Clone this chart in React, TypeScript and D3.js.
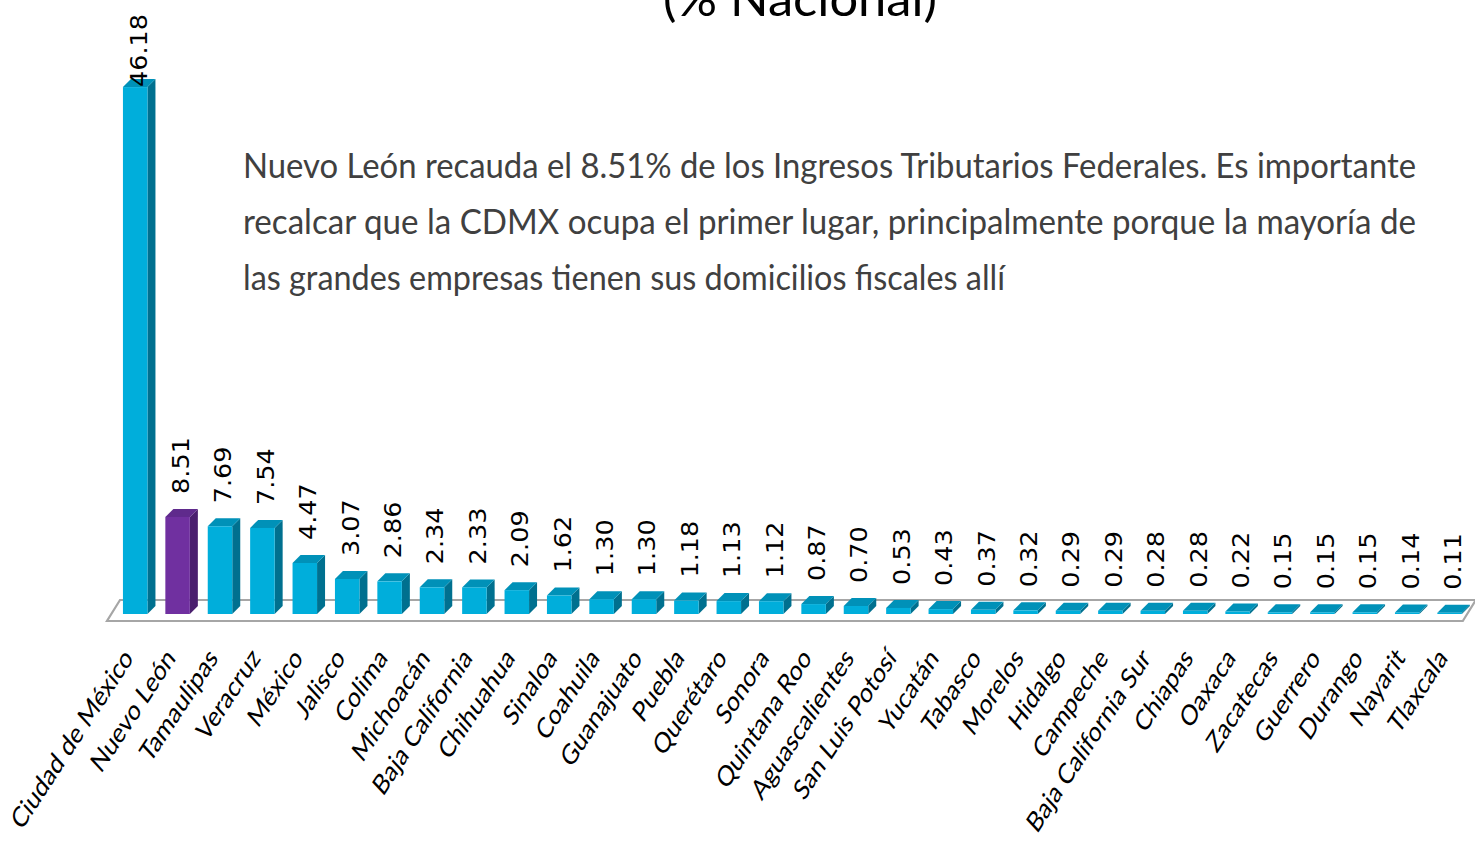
import { useEffect, useRef } from "react";
import * as d3 from "d3";

const states = [
  "Ciudad de México", "Nuevo León", "Tamaulipas", "Veracruz", "México", "Jalisco", "Colima",
  "Michoacán", "Baja California", "Chihuahua", "Sinaloa", "Coahuila", "Guanajuato", "Puebla",
  "Querétaro", "Sonora", "Quintana Roo", "Aguascalientes", "San Luis Potosí", "Yucatán",
  "Tabasco", "Morelos", "Hidalgo", "Campeche", "Baja California Sur", "Chiapas", "Oaxaca",
  "Zacatecas", "Guerrero", "Durango", "Nayarit", "Tlaxcala",
];

const shares = [
  46.18, 8.51, 7.69, 7.54, 4.47, 3.07, 2.86, 2.34, 2.33, 2.09, 1.62, 1.3, 1.3, 1.18, 1.13, 1.12,
  0.87, 0.7, 0.53, 0.43, 0.37, 0.32, 0.29, 0.29, 0.28, 0.28, 0.22, 0.15, 0.15, 0.15, 0.14, 0.11,
];

const highlight = "Nuevo León";

const titleText = "(% Nacional)";

const noteLines = [
  "Nuevo León recauda el 8.51% de los Ingresos Tributarios Federales. Es importante",
  "recalcar que la CDMX ocupa el primer lugar, principalmente porque la mayoría de",
  "las grandes empresas tienen sus domicilios fiscales allí",
];

const W = 1475;
const H = 842;

export default function App() {
  const ref = useRef<SVGSVGElement>(null);

  useEffect(() => {
    if (!ref.current) return;
    const svg = d3.select(ref.current);
    svg.selectAll("*").remove();

    const data = states.map((s, i) => ({ state: s, value: shares[i] }));

    const baseY = 614;
    const x = d3.scaleBand<string>().domain(states).range([114, 1470.8]).paddingInner(0.422).paddingOuter(0.211);
    const y = d3.scaleLinear().domain([0, 50]).range([baseY, baseY - 570.5]);

    // depth of bars
    const dx = 8;
    const dy = -8;

    // floor
    const [r0, r1] = x.range();
    const fl = r0 - 7;
    const fr = r1 - 8;
    svg
      .append("path")
      .attr("d", `M${fl},621 L${fr},621 L${fr + 13},600 L${fl + 13},600 Z`)
      .attr("fill", "#ffffff")
      .attr("stroke", "#a6a6a6")
      .attr("stroke-width", 2.2);

    const colors = (d: { state: string }) =>
      d.state === highlight
        ? { front: "#7030a0", top: "#5f2a8c", side: "#4a1f6e" }
        : { front: "#00aedb", top: "#0091b8", side: "#00708f" };

    const bars = svg.selectAll(".bar").data(data).join("g").attr("class", "bar");

    // side face
    bars
      .append("path")
      .attr("d", (d) => {
        const x1 = x(d.state)! + x.bandwidth();
        const yt = y(d.value);
        return `M${x1},${baseY} L${x1 + dx},${baseY + dy} L${x1 + dx},${yt + dy} L${x1},${yt} Z`;
      })
      .attr("fill", (d) => colors(d).side);

    // top face
    bars
      .append("path")
      .attr("d", (d) => {
        const x0 = x(d.state)!;
        const x1 = x0 + x.bandwidth();
        const yt = y(d.value);
        return `M${x0},${yt} L${x1},${yt} L${x1 + dx},${yt + dy} L${x0 + dx},${yt + dy} Z`;
      })
      .attr("fill", (d) => colors(d).top);

    // front face
    bars
      .append("rect")
      .attr("x", (d) => x(d.state)!)
      .attr("y", (d) => y(d.value))
      .attr("width", x.bandwidth())
      .attr("height", (d) => baseY - y(d.value))
      .attr("fill", (d) => colors(d).front);

    // value labels
    svg
      .selectAll(".val")
      .data(data)
      .join("text")
      .attr("class", "val")
      .attr("transform", (d) => {
        const cx = x(d.state)! + x.bandwidth() / 2 + 3;
        const ly = Math.max(y(d.value) + dy - 15, 87);
        return `translate(${cx},${ly}) scale(0.92,1) rotate(-90)`;
      })
      .attr("dy", "0.36em")
      .attr("font-family", "DejaVu Sans")
      .attr("font-size", 25.5)
      .attr("fill", "#000")
      .text((d) => d.value.toFixed(2));

    // category labels
    svg
      .selectAll(".cat")
      .data(data)
      .join("text")
      .attr("class", "cat")
      .attr("transform", (d) => {
        const cx = x(d.state)! + x.bandwidth() / 2 - 1;
        return `translate(${cx},659) scale(0.78,1) rotate(-50)`;
      })
      .attr("text-anchor", "end")
      .attr("font-family", "Lato")
      .attr("font-size", 28.5)
      .attr("fill", "#000")
      .text((d) => d.state);

    // title (cut off at the top)
    svg
      .append("text")
      .attr("x", 663)
      .attr("y", 16)
      .attr("font-family", "Lato")
      .attr("font-size", 48)
      .attr("textLength", 274)
      .attr("lengthAdjust", "spacingAndGlyphs")
      .attr("fill", "#000")
      .text(titleText);

    // annotation
    const noteWidths = [1173, 1173, 762];
    svg
      .selectAll(".note")
      .data(noteLines)
      .join("text")
      .attr("class", "note")
      .attr("x", 243)
      .attr("y", (_, i) => 178 + i * 56)
      .attr("font-family", "Lato")
      .attr("font-size", 35)
      .attr("textLength", (_, i) => noteWidths[i])
      .attr("lengthAdjust", "spacingAndGlyphs")
      .attr("fill", "#404040")
      .text((d) => d);
  }, []);

  return (
    <svg
      ref={ref}
      width={W}
      height={H}
      style={{ position: "absolute", left: 0, top: 0, background: "#fff" }}
    />
  );
}
